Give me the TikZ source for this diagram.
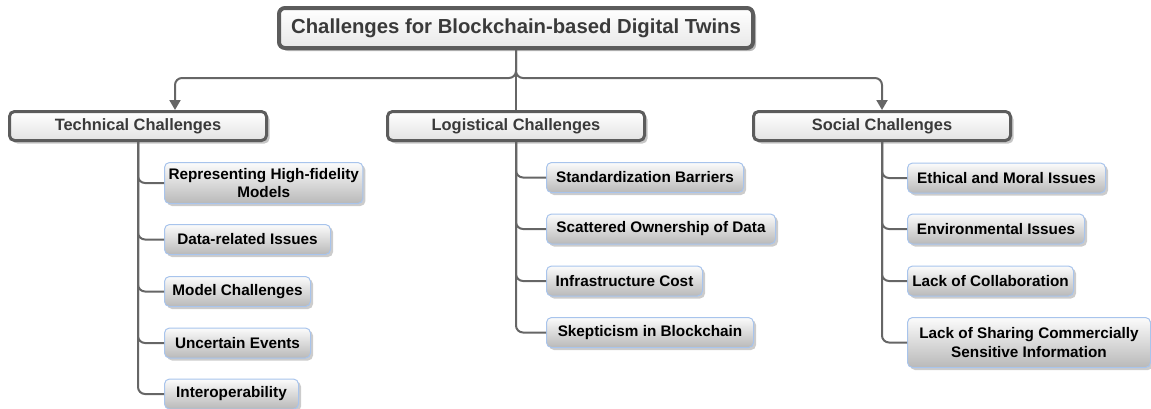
\documentclass[tikz,border=0pt]{standalone}
\usepackage{fontspec}
\setmainfont{Liberation Sans}
\usetikzlibrary{arrows.meta,shadows}
\definecolor{framegray}{HTML}{5C5C5C}
\definecolor{linegray}{HTML}{666666}
\definecolor{headtext}{HTML}{3A3A3A}
\definecolor{leafblue}{HTML}{A8C4EC}

\tikzset{
  rootbox/.style={draw=framegray, line width=4pt, rounded corners=6pt,
    top color=white, bottom color=gray!18,
    drop shadow={shadow xshift=3pt, shadow yshift=-3pt, fill=gray!55, opacity=1},
    minimum width=474pt, minimum height=40pt, text=headtext,
    font=\fontsize{20.3}{24}\selectfont\bfseries},
  headbox/.style={draw=framegray, line width=3pt, rounded corners=5pt,
    top color=white, bottom color=gray!22,
    drop shadow={shadow xshift=3pt, shadow yshift=-3pt, fill=gray!45, opacity=1},
    minimum width=257pt, minimum height=29pt, text=headtext,
    font=\fontsize{16.4}{20}\selectfont\bfseries},
  leafbox/.style={draw=leafblue, line width=1pt, rounded corners=5pt,
    top color=gray!3, bottom color=gray!55,
    drop shadow={shadow xshift=2.5pt, shadow yshift=-2.5pt, fill=gray!40, opacity=1},
    anchor=west, minimum height=30pt, inner xsep=4pt, align=center,
    font=\fontsize{15.3}{18.5}\selectfont\bfseries},
  conn/.style={draw=linegray, line width=2pt, rounded corners=7pt},
  tip/.style={-{Triangle[width=11pt,length=10pt]}},
}

\begin{document}
\begin{tikzpicture}[x=1pt, y=-1pt]

% --- canvas -------------------------------------------------------
\useasboundingbox (0,0) rectangle (1151,408);

% --- column positions (left edge of the leaf boxes) ---------------
\def\leafT{164}
\def\leafL{546}
\def\leafS{907}

% === root and the three headings ==================================
\node[rootbox] (root) at (516,28) {Challenges for Blockchain-based Digital Twins};

\node[headbox] (tech) at (138,126) {Technical Challenges};
\node[headbox] (logi) at (516,126) {Logistical Challenges};
\node[headbox] (soc)  at (882,126) {Social Challenges};

% === technical leaves =============================================
\node[leafbox, minimum width=195pt, minimum height=41pt] (t1) at (\leafT,183) {Representing High-fidelity\\Models};
\node[leafbox, minimum width=166pt] (t2) at (\leafT,239.5) {Data-related Issues};
\node[leafbox, minimum width=146pt] (t3) at (\leafT,291.5) {Model Challenges};
\node[leafbox, minimum width=146pt] (t4) at (\leafT,343)   {Uncertain Events};
\node[leafbox, minimum width=134pt] (t5) at (\leafT,394)   {Interoperability};

% === logistical leaves ============================================
\node[leafbox, minimum width=197pt] (l1) at (\leafL,177.5) {Standardization Barriers};
\node[leafbox, minimum width=229pt] (l2) at (\leafL,229)   {Scattered Ownership of Data};
\node[leafbox, minimum width=156pt] (l3) at (\leafL,281)   {Infrastructure Cost};
\node[leafbox, minimum width=207pt] (l4) at (\leafL,332.5) {Skepticism in Blockchain};

% === social leaves ================================================
\node[leafbox, minimum width=198pt] (s1) at (\leafS,178)   {Ethical and Moral Issues};
\node[leafbox, minimum width=177pt] (s2) at (\leafS,229)   {Environmental Issues};
\node[leafbox, minimum width=166pt] (s3) at (\leafS,281)   {Lack of Collaboration};
\node[leafbox, minimum width=243pt, minimum height=50pt] (s4) at (\leafS,342.5) {Lack of Sharing Commercially\\Sensitive Information};

% --- root to headings ---------------------------------------------
\coordinate (fork) at (516,78);
\coordinate (techin) at ([xshift=37pt]tech.north);
\draw[conn, tip] (root.south) |- (techin |- fork) -- (techin);
\draw[conn, tip] (root.south) |- (soc.north |- fork) -- (soc.north);
\draw[conn] (root.south) -- (logi.north);

% --- headings to leaves -------------------------------------------
\foreach \c in {t1,t2,t3,t4,t5}
  \draw[conn] (tech.south) |- (\c.west);
\foreach \c in {l1,l2,l3,l4}
  \draw[conn] (logi.south) |- (\c.west);
\foreach \c in {s1,s2,s3,s4}
  \draw[conn] (soc.south) |- (\c.west);

\end{tikzpicture}
\end{document}
